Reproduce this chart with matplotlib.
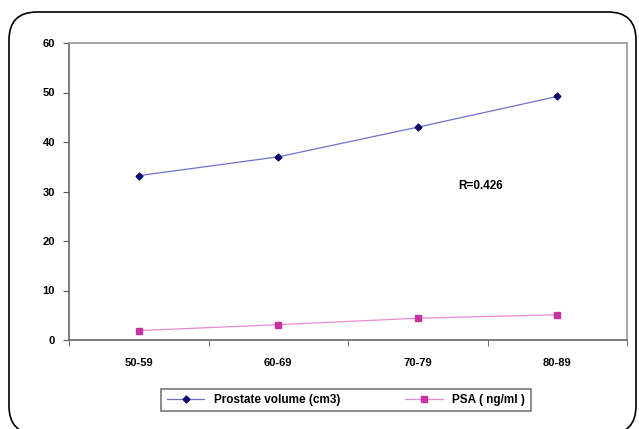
import matplotlib
matplotlib.use('Agg')
import matplotlib.pyplot as plt
from matplotlib.patches import FancyBboxPatch

# Dados do gráfico
age_groups = ['50-59', '60-69', '70-79', '80-89']
prostate_volume = [33.2, 37.0, 43.0, 49.2]
psa = [1.9, 3.1, 4.4, 5.1]
y_ticks = [0, 10, 20, 30, 40, 50, 60]

plt.rcParams['font.family'] = ['Liberation Sans', 'DejaVu Sans']

fig = plt.figure(figsize=(6.39, 4.29), dpi=100)
ax = fig.add_axes([69 / 639, 1 - 340 / 429, (627 - 69) / 639, (340 - 43) / 429])

x = range(len(age_groups))
ax.plot(x, prostate_volume, color='#7070d0', lw=0.9, marker='D', ms=3.5,
        mfc='#0a0a6e', mec='#0a0a6e', label='Prostate volume (cm3)')
ax.plot(x, psa, color='#e88ad2', lw=0.9, marker='s', ms=4,
        mfc='#c8329e', mec='#c8329e', label='PSA ( ng/ml )')

ax.set_xlim(-0.5, len(age_groups) - 0.5)
ax.set_ylim(0, 60)
ax.set_yticks(y_ticks)
ax.set_xticks(x)
ax.set_xticklabels(age_groups)
ax.set_xticks([i + 0.5 for i in range(-1, len(age_groups))], minor=True)
ax.tick_params(axis='x', which='major', length=0, pad=13)
ax.tick_params(axis='x', which='minor', length=4, direction='out', color='#555555')
ax.tick_params(axis='y', length=4, direction='out', color='#555555', pad=6)
for lbl in ax.get_xticklabels() + ax.get_yticklabels():
    lbl.set_fontsize(8)
    lbl.set_fontweight('bold')

for side in ['top', 'right']:
    ax.spines[side].set_color('#999999')
    ax.spines[side].set_linewidth(1.2)
for side in ['left', 'bottom']:
    ax.spines[side].set_color('#666666')
    ax.spines[side].set_linewidth(1.2)

ax.text(2.45, 31.1, 'R=0.426', fontsize=8.5, fontweight='bold', ha='center', va='center')

leg = fig.legend(loc='center', bbox_to_anchor=(346 / 639, 1 - 400 / 429), ncol=2,
                 prop={'weight': 'bold', 'size': 8.5}, frameon=True, fancybox=False,
                 handlelength=3.2, columnspacing=5.5, borderpad=0.45)
leg.get_frame().set_edgecolor('#555555')
leg.get_frame().set_linewidth(1.2)

# Moldura arredondada em volta da figura (em polegadas)
frame = FancyBboxPatch((0.09, -0.05), 6.27, 4.22,
                       boxstyle='round,pad=0,rounding_size=0.28',
                       transform=fig.dpi_scale_trans, fill=False, ec='black', lw=1.2)
fig.patches.append(frame)

fig.savefig('out.png', dpi=100)
